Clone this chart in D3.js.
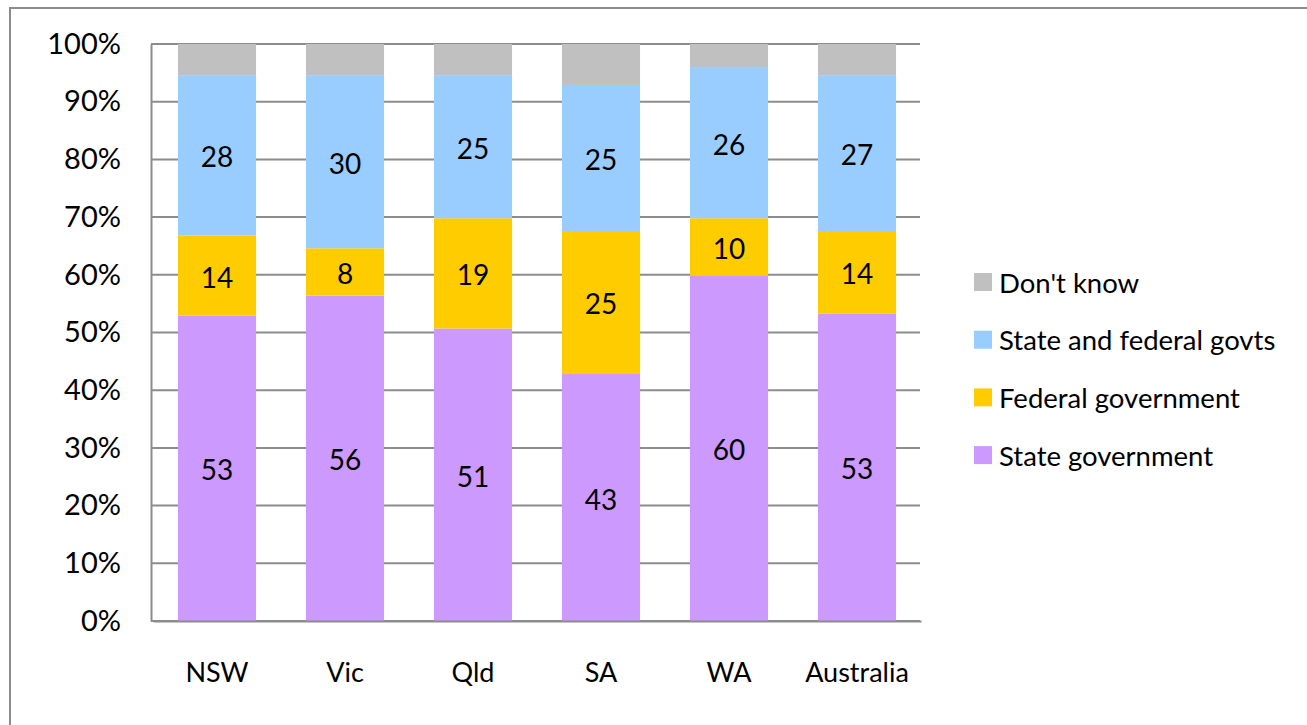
<!DOCTYPE html>
<html>
<head>
<meta charset="utf-8">
<script src="https://cdn.jsdelivr.net/npm/d3@7"></script>
<style>
  html, body { margin: 0; padding: 0; background: #fff; }
  svg { display: block; }
  text { font-family: Lato, "Open Sans", sans-serif; fill: #000; }
</style>
</head>
<body>
<svg id="chart" width="1307" height="725"></svg>
<script>
const categories = ["NSW", "Vic", "Qld", "SA", "WA", "Australia"];
const seriesNames = ["State government", "Federal government", "State and federal govts", "Don't know"];
const stateGov   = [52.9, 56.4, 50.7, 42.8, 59.8, 53.3];
const federalGov = [13.9, 8.2, 19.1, 24.8, 10.0, 14.3];
const bothGovts  = [27.8, 30.0, 24.8, 25.3, 26.2, 27.0];
const dontKnow   = [5.4, 5.4, 5.4, 7.1, 4.0, 5.4];
const yTicks = [0, 10, 20, 30, 40, 50, 60, 70, 80, 90, 100];
const colors = ["#CC99FF", "#FFCC00", "#99CCFF", "#C0C0C0"];
const showLabel = [true, true, true, false];

const svg = d3.select("#chart");

// outer chart border (extends past right/bottom edge)
svg.append("rect")
  .attr("x", 10).attr("y", 8).attr("width", 1400).attr("height", 800)
  .attr("fill", "none").attr("stroke", "#8c8c8c").attr("stroke-width", 2);

const plotLeft = 151, plotRight = 920, plotTop = 44, plotBottom = 621;

const x = d3.scaleBand().domain(categories).range([plotLeft + 2, plotRight + 1]).paddingInner(0.39).paddingOuter(0.195);
const y = d3.scaleLinear().domain([0, 100]).range([plotBottom, plotTop]);

// gridlines
svg.append("g").selectAll("line").data(yTicks).join("line")
  .attr("x1", plotLeft).attr("x2", plotRight)
  .attr("y1", d => y(d)).attr("y2", d => y(d))
  .attr("stroke", "#8c8c8c").attr("stroke-width", 2);

const rows = categories.map((c, i) => ({
  cat: c,
  "State government": stateGov[i],
  "Federal government": federalGov[i],
  "State and federal govts": bothGovts[i],
  "Don't know": dontKnow[i]
}));
const stacked = d3.stack().keys(seriesNames)(rows);

const layers = svg.append("g").selectAll("g").data(stacked).join("g")
  .attr("fill", (d, i) => colors[i]);

layers.selectAll("rect").data(d => d).join("rect")
  .attr("x", d => x(d.data.cat))
  .attr("width", x.bandwidth())
  .attr("y", d => y(d[1]))
  .attr("height", d => y(d[0]) - y(d[1]));

// value labels
stacked.forEach((layer, si) => {
  if (!showLabel[si]) return;
  svg.append("g").selectAll("text").data(layer).join("text")
    .attr("x", d => x(d.data.cat) + x.bandwidth() / 2)
    .attr("y", d => (y(d[0]) + y(d[1])) / 2 + 1)
    .attr("text-anchor", "middle")
    .attr("dominant-baseline", "central")
    .attr("font-size", 28)
    .text(d => Math.round(d[1] - d[0]));
});

// axes
const yAxis = d3.axisLeft(y).tickValues(yTicks).tickSize(0).tickPadding(30).tickFormat(d => d + "%");
const gy = svg.append("g").attr("transform", `translate(${plotLeft},0)`).call(yAxis);
gy.select(".domain").attr("stroke", "#8c8c8c").attr("stroke-width", 2);
gy.selectAll("text").attr("font-size", 29).attr("font-family", "Lato, sans-serif").attr("fill", "#000");

const xAxis = d3.axisBottom(x).tickSize(0).tickPadding(42);
const gx = svg.append("g").attr("transform", `translate(0,${plotBottom})`).call(xAxis);
gx.select(".domain").attr("stroke", "#8c8c8c").attr("stroke-width", 2);
gx.selectAll("text").attr("font-size", 27).attr("font-family", "Lato, sans-serif").attr("fill", "#000");

// legend (reverse order: Don't know on top)
const legendOrder = seriesNames.map((n, i) => ({ name: n, color: colors[i] })).reverse();
const leg = svg.append("g").selectAll("g").data(legendOrder).join("g")
  .attr("transform", (d, i) => `translate(974, ${282 + i * 57.7})`);
leg.append("rect").attr("x", 0).attr("y", -9).attr("width", 18).attr("height", 18).attr("fill", d => d.color);
leg.append("text").attr("x", 25).attr("y", 0).attr("dominant-baseline", "central")
  .attr("font-size", 27.5).text(d => d.name);
</script>
</body>
</html>
